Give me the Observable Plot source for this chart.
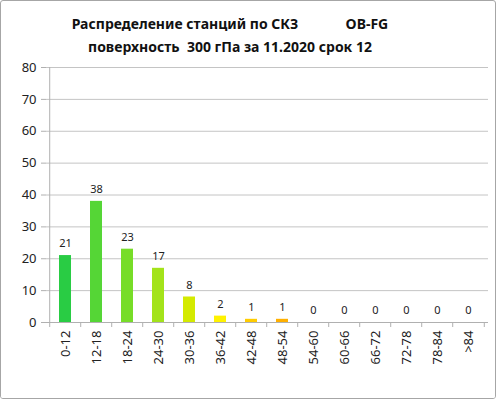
<!DOCTYPE html>
<html>
<head>
<meta charset="utf-8">
<script src="https://cdn.jsdelivr.net/npm/d3@7"></script>
<script src="https://cdn.jsdelivr.net/npm/@observablehq/plot@0.6"></script>
<style>
  html, body { margin: 0; padding: 0; background: #fff; }
  #frame {
    width: 496px; height: 399px; box-sizing: border-box;
    border: 1px solid #a6a6a6; border-radius: 3px; background: #fff;
    font-family: "Noto Sans", "Open Sans", sans-serif; overflow: hidden;
  }
  #title {
    height: 55px; box-sizing: border-box; padding-top: 11px;
    width: 458px; text-align: center; font-weight: bold; font-size: 14px;
    line-height: 23px; color: #111; white-space: pre;
  }
  #chart svg { display: block; }
</style>
</head>
<body>
<div id="frame">
  <div id="title"><div>Распределение станций по СКЗ             OB-FG</div><div>поверхность  300 гПа за 11.2020 срок 12</div></div>
  <div id="chart"></div>
</div>
<script>
const categories = ["0-12","12-18","18-24","24-30","30-36","36-42","42-48","48-54","54-60","60-66","66-72","72-78","78-84",">84"];
const values = [21, 38, 23, 17, 8, 2, 1, 1, 0, 0, 0, 0, 0, 0];
const yTicks = [0, 10, 20, 30, 40, 50, 60, 70, 80];
const barColors = ["#29cc44","#55d636","#77dd28","#a3e31a","#d4ea00","#fff200","#ffcc00","#ffb000","#ffa000","#ffa000","#ffa000","#ffa000","#ffa000","#ffa000"];

const data = categories.map((c, i) => ({cat: c, value: values[i]}));

const W = 494, H = 342, mL = 45, mR = 7, mT = 11, mB = 76;
const step = (W - mL - mR) / categories.length;

const chart = Plot.plot({
  width: W, height: H,
  marginLeft: mL, marginRight: mR, marginTop: mT, marginBottom: mB,
  style: {fontFamily: "'Noto Sans', 'Open Sans', sans-serif", fontSize: "13px", color: "#222", background: "#fff"},
  x: {domain: categories, paddingInner: 0.6, paddingOuter: 0.3, label: null},
  y: {domain: [0, 80], label: null},
  color: {domain: categories, range: barColors},
  marks: [
    Plot.ruleY(yTicks, {stroke: "#c4c4c4", strokeWidth: 1}),
    Plot.ruleX([0], {x: () => categories[0], dx: -step / 2, stroke: "#b0b0b0", y1: 0, y2: 80}),
    Plot.ruleY([0], {stroke: "#b0b0b0"}),
    Plot.ruleX(categories, {x: d => d, dx: -step / 2, y1: 0, y2: 0, insetBottom: -5, stroke: "#b0b0b0"}),
    Plot.ruleX([categories[categories.length - 1]], {x: d => d, dx: step / 2, y1: 0, y2: 0, insetBottom: -5, stroke: "#b0b0b0"}),
    Plot.barY(data, {x: "cat", y: "value", fill: "cat"}),
    Plot.text(data, {x: "cat", y: "value", text: d => String(d.value), dy: -12, fontSize: 11, fill: "#222"}),
    Plot.axisY({ticks: yTicks, tickSize: 5, tickPadding: 5, stroke: "#b0b0b0", fill: "#222", fontSize: 13}),
    Plot.axisX({tickSize: 0, tickPadding: 8, tickRotate: -90, fill: "#222", fontSize: 13})
  ]
});
document.getElementById("chart").appendChild(chart);
</script>
</body>
</html>
